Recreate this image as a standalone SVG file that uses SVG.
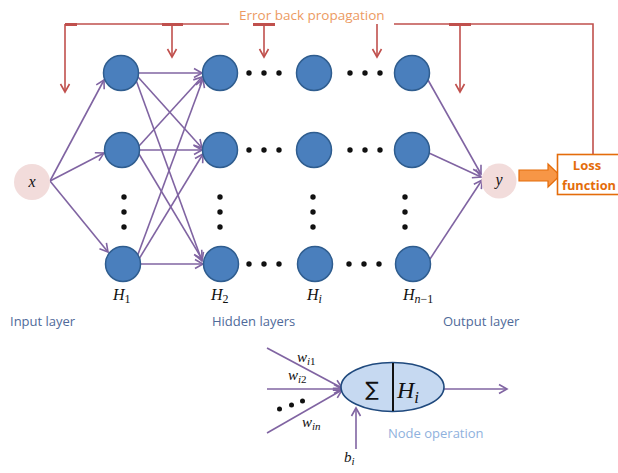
<svg xmlns="http://www.w3.org/2000/svg" width="618" height="473" viewBox="0 0 618 473">
<defs>
<style>
.nd{fill:#4a7fbd;stroke:#2f5d8f;stroke-width:1.5}
.dot{fill:#111}
.pk{fill:#f2dcdb}
.pl{stroke:#8064a2;stroke-width:1.6;fill:none}
.rd{stroke:#c0504d;stroke-width:1.6;fill:none}
.bar{stroke:#c0504d;stroke-width:3}
.math{font-family:"Liberation Serif","DejaVu Serif",serif;font-style:italic;fill:#111}
.sub{font-style:normal}
.lbl{font-family:"Open Sans","Liberation Sans",sans-serif;font-size:13px;fill:#4f6a9a}
</style>
<marker id="pa" markerUnits="userSpaceOnUse" markerWidth="12" markerHeight="12" refX="10" refY="6" orient="auto">
<path d="M2,1.5 L10,6 L2,10.5" fill="none" stroke="#8064a2" stroke-width="1.6"/>
</marker>
<marker id="ra" markerUnits="userSpaceOnUse" markerWidth="12" markerHeight="12" refX="10" refY="6" orient="auto">
<path d="M2,1.5 L10,6 L2,10.5" fill="none" stroke="#c0504d" stroke-width="1.6"/>
</marker>
</defs>
<rect width="618" height="473" fill="#fff"/>

<g id="error-feedback">
<path class="rd" d="M65,24 H229 M394,24 H593 V155"/>
<line class="bar" x1="65" y1="24.5" x2="77" y2="24.5"/>
<line class="bar" x1="162" y1="24.5" x2="183" y2="24.5"/>
<line class="bar" x1="253" y1="24.5" x2="275" y2="24.5"/>
<line class="bar" x1="449" y1="24.5" x2="471" y2="24.5"/>
<line class="rd" x1="65" y1="24" x2="65" y2="92" marker-end="url(#ra)"/>
<line class="rd" x1="172" y1="24" x2="172" y2="57" marker-end="url(#ra)"/>
<line class="rd" x1="264" y1="24" x2="264" y2="57" marker-end="url(#ra)"/>
<line class="rd" x1="377" y1="24" x2="377" y2="57" marker-end="url(#ra)"/>
<line class="rd" x1="460" y1="24" x2="460" y2="92" marker-end="url(#ra)"/>
<text x="239" y="20" font-family="Open Sans,Liberation Sans,sans-serif" font-size="13.5" fill="#ec9a62">Error back propagation</text>
</g>

<g id="connectors">
<line class="pl" x1="50" y1="181" x2="104" y2="80" marker-end="url(#pa)"/>
<line class="pl" x1="50" y1="181" x2="104" y2="153" marker-end="url(#pa)"/>
<line class="pl" x1="50" y1="181" x2="108" y2="252" marker-end="url(#pa)"/>

<line class="pl" x1="139" y1="73" x2="202" y2="73" marker-end="url(#pa)"/>
<line class="pl" x1="138" y1="77" x2="202" y2="148" marker-end="url(#pa)"/>
<line class="pl" x1="136" y1="80" x2="202" y2="261" marker-end="url(#pa)"/>
<line class="pl" x1="139" y1="146" x2="202" y2="77" marker-end="url(#pa)"/>
<line class="pl" x1="140" y1="150" x2="202" y2="150" marker-end="url(#pa)"/>
<line class="pl" x1="139" y1="154" x2="202" y2="259" marker-end="url(#pa)"/>
<line class="pl" x1="137" y1="257" x2="203" y2="79" marker-end="url(#pa)"/>
<line class="pl" x1="139" y1="259" x2="203" y2="154" marker-end="url(#pa)"/>
<line class="pl" x1="141" y1="264" x2="203" y2="264" marker-end="url(#pa)"/>

<line class="pl" x1="428" y1="80" x2="481" y2="174" marker-end="url(#pa)"/>
<line class="pl" x1="429" y1="153" x2="481" y2="177" marker-end="url(#pa)"/>
<line class="pl" x1="430" y1="259" x2="482" y2="180" marker-end="url(#pa)"/>
</g>

<g id="input-x">
<circle class="pk" cx="32" cy="182" r="18"/>
<text class="math" x="32" y="187" font-size="16" text-anchor="middle">x</text>
</g>

<g id="layer-H1">
<circle class="nd" cx="121" cy="73" r="17.5"/>
<circle class="nd" cx="122" cy="150" r="17.5"/>
<circle class="nd" cx="123" cy="264" r="17.5"/>
<circle class="dot" cx="124" cy="197" r="2.7"/>
<circle class="dot" cx="124" cy="212" r="2.7"/>
<circle class="dot" cx="124" cy="227" r="2.7"/>
<text class="math" x="113" y="300" font-size="16">H<tspan class="sub" font-size="12" dy="3">1</tspan></text>
</g>

<g id="layer-H2">
<circle class="nd" cx="220" cy="73" r="17.5"/>
<circle class="nd" cx="220" cy="150" r="17.5"/>
<circle class="nd" cx="221" cy="264" r="17.5"/>
<circle class="dot" cx="220" cy="197" r="2.7"/>
<circle class="dot" cx="220" cy="212" r="2.7"/>
<circle class="dot" cx="220" cy="227" r="2.7"/>
<text class="math" x="211" y="300" font-size="16">H<tspan class="sub" font-size="12" dy="3">2</tspan></text>
</g>

<g id="dots-h">
<circle class="dot" cx="249" cy="73" r="2.7"/><circle class="dot" cx="264" cy="73" r="2.7"/><circle class="dot" cx="279" cy="73" r="2.7"/>
<circle class="dot" cx="249" cy="150" r="2.7"/><circle class="dot" cx="264" cy="150" r="2.7"/><circle class="dot" cx="279" cy="150" r="2.7"/>
<circle class="dot" cx="249" cy="264" r="2.7"/><circle class="dot" cx="264" cy="264" r="2.7"/><circle class="dot" cx="279" cy="264" r="2.7"/>
<circle class="dot" cx="350" cy="73" r="2.7"/><circle class="dot" cx="365" cy="73" r="2.7"/><circle class="dot" cx="380" cy="73" r="2.7"/>
<circle class="dot" cx="350" cy="150" r="2.7"/><circle class="dot" cx="365" cy="150" r="2.7"/><circle class="dot" cx="380" cy="150" r="2.7"/>
<circle class="dot" cx="349" cy="264" r="2.7"/><circle class="dot" cx="364" cy="264" r="2.7"/><circle class="dot" cx="379" cy="264" r="2.7"/>
</g>

<g id="layer-Hi">
<circle class="nd" cx="314" cy="73" r="17.5"/>
<circle class="nd" cx="314" cy="150" r="17.5"/>
<circle class="nd" cx="315" cy="264" r="17.5"/>
<circle class="dot" cx="313" cy="197" r="2.7"/>
<circle class="dot" cx="313" cy="212" r="2.7"/>
<circle class="dot" cx="313" cy="227" r="2.7"/>
<text class="math" x="307" y="300" font-size="16">H<tspan font-size="12" dy="3">i</tspan></text>
</g>

<g id="layer-Hn-1">
<circle class="nd" cx="412" cy="73" r="17.5"/>
<circle class="nd" cx="412" cy="150" r="17.5"/>
<circle class="nd" cx="413" cy="264" r="17.5"/>
<circle class="dot" cx="405" cy="197" r="2.7"/>
<circle class="dot" cx="405" cy="212" r="2.7"/>
<circle class="dot" cx="405" cy="227" r="2.7"/>
<text class="math" x="403" y="300" font-size="16">H<tspan font-size="12" dy="3">n<tspan class="sub">−1</tspan></tspan></text>
</g>

<g id="output-y">
<circle class="pk" cx="499" cy="181" r="17.5"/>
<text class="math" x="499" y="185" font-size="16" text-anchor="middle">y</text>
</g>

<g id="to-loss">
<path d="M519,170 H548 V164 L560,175.5 L548,187 V181 H519 Z" fill="#f79646" stroke="#e46c0a" stroke-width="1.2"/>
</g>

<g id="loss-function">
<rect x="557.5" y="154.5" width="70" height="40" fill="#fff" stroke="#e46c0a" stroke-width="1.6"/>
<text x="587" y="170" font-family="Open Sans,Liberation Sans,sans-serif" font-size="13" font-weight="bold" fill="#e46c0a" text-anchor="middle">Loss</text>
<text x="562" y="190" font-family="Open Sans,Liberation Sans,sans-serif" font-size="12.5" font-weight="bold" fill="#e46c0a" textLength="54" lengthAdjust="spacingAndGlyphs">function</text>
</g>

<g id="layer-labels">
<text class="lbl" x="10" y="326">Input layer</text>
<text class="lbl" x="212" y="326">Hidden layers</text>
<text class="lbl" x="443" y="326">Output layer</text>
</g>

<g id="node-operation">
<line class="pl" x1="267" y1="348" x2="342" y2="388" marker-end="url(#pa)"/>
<line class="pl" x1="267" y1="389" x2="342" y2="389" marker-end="url(#pa)"/>
<line class="pl" x1="267" y1="433" x2="342" y2="390" marker-end="url(#pa)"/>
<line class="pl" x1="356" y1="449" x2="356" y2="408" marker-end="url(#pa)"/>
<line class="pl" x1="444" y1="389" x2="507" y2="389" marker-end="url(#pa)"/>
<ellipse cx="392.5" cy="387" rx="51.5" ry="24.5" fill="#c6d9f1" stroke="#1f497d" stroke-width="1.6"/>
<line x1="393" y1="363" x2="393" y2="411" stroke="#111" stroke-width="2"/>
<text x="372" y="396" font-family="DejaVu Sans,sans-serif" font-size="20" fill="#111" text-anchor="middle">∑</text>
<text class="math" x="397" y="398" font-size="24">H<tspan font-size="17" dy="5">i</tspan></text>
<text class="math" x="297" y="362" font-size="15">w<tspan font-size="11" dy="3">i<tspan class="sub">1</tspan></tspan></text>
<text class="math" x="288" y="380" font-size="15">w<tspan font-size="11" dy="3">i<tspan class="sub">2</tspan></tspan></text>
<text class="math" x="302" y="427" font-size="15">w<tspan font-size="11" dy="3">in</tspan></text>
<circle class="dot" cx="279.5" cy="409" r="2.5"/>
<circle class="dot" cx="291.5" cy="405" r="2.5"/>
<circle class="dot" cx="302.5" cy="401" r="2.5"/>
<text class="math" x="344" y="462" font-size="15">b<tspan font-size="11" dy="3">i</tspan></text>
<text x="388" y="438" font-family="Open Sans,Liberation Sans,sans-serif" font-size="13" fill="#8fb1dd">Node operation</text>
</g>
</svg>
